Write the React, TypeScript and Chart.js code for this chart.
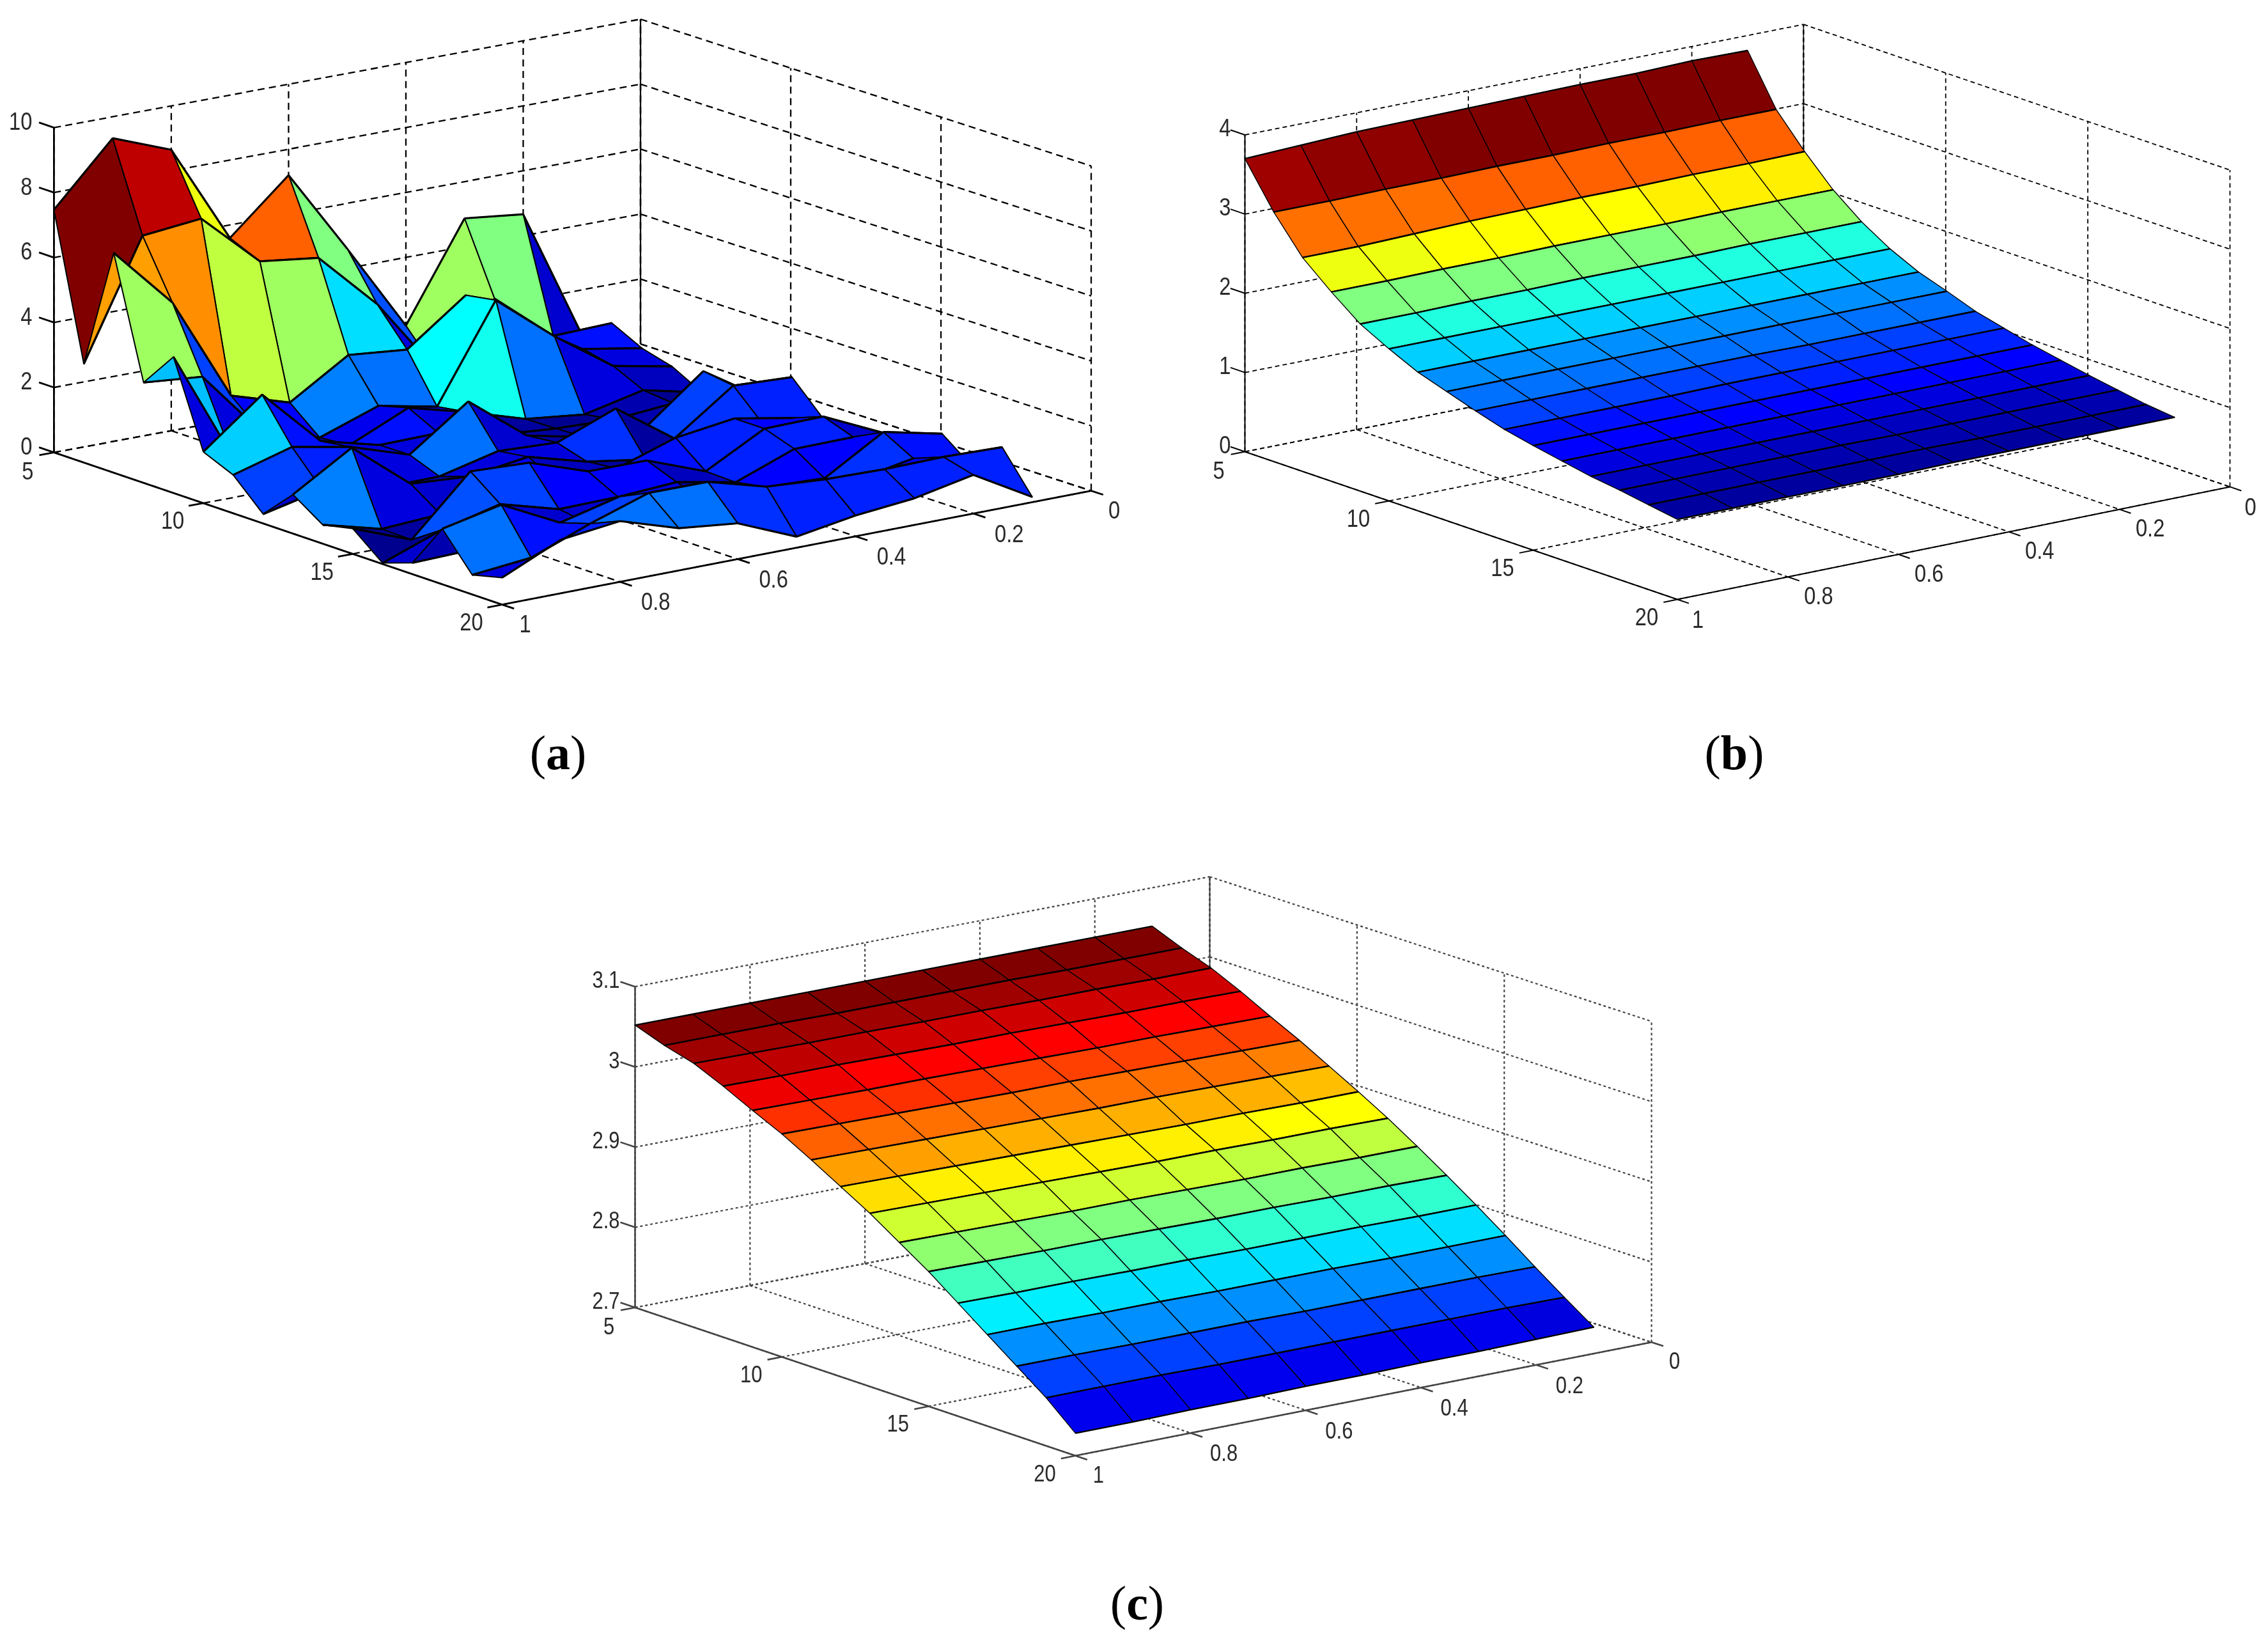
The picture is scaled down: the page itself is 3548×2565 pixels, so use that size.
import React, { useEffect, useRef } from "react";
import { Chart, registerables } from "chart.js";

Chart.register(...registerables);

// ---- values ----
const xNodes = [5, 6, 7, 8, 9, 10, 11, 12, 13, 14, 15, 16, 17, 18, 19, 20];
const yNodes = [1, 0.9, 0.8, 0.7, 0.6, 0.5, 0.4, 0.3, 0.2, 0.1];
const xTicks = [5, 10, 15, 20];
const yTicks = [1, 0.8, 0.6, 0.4, 0.2, 0];
const zTicksA = [0, 2, 4, 6, 8, 10];
const zTicksB = [0, 1, 2, 3, 4];
const zTicksC = [2.7, 2.8, 2.9, 3, 3.1];

// rows: x = 5..20, columns: y = 1..0.1
const zA = [
  [7.47, 9.34, 8.65, 5.6, 7.2, 4.6, 1.9, 4.87, 4.66, 0.62],
  [3.04, 6.65, 6.84, 5.19, 4.96, 3.2, 0.85, 2.7, 1.22, 1.28],
  [6.77, 4.9, 1.7, 1.15, 2.28, 2.11, 3.45, 1.5, 1.12, 0.81],
  [3.09, 2.93, 0.9, 0.38, 1.02, 0.66, 3.6, 2.15, 0.9, 0.55],
  [4.19, 0.8, 0.35, 0.46, 1.27, 0.8, 0.25, 0.05, 0.46, 0.05],
  [1.58, 3.0, 1.23, 0.77, 0.8, 0.4, 0.26, 0.2, 0.36, 0.3],
  [1.18, 1.7, 1.36, 0.78, 2.08, 0.69, 0.3, 0.23, 1.65, 0.5],
  [0.29, 0.7, 0.4, 0.42, 0.86, 0.78, 1.49, 0.22, 1.51, 1.43],
  [1.2, 2.3, 0.85, 0.73, 0.99, 0.5, 0.22, 0.2, 0.62, 0.5],
  [0.58, 0.11, 0.22, 0.3, 0.5, 0.6, 1.2, 1.45, 1.12, 0.58],
  [0.78, 0.09, 1.85, 1.77, 1.16, 1.15, 0.47, 1.44, 1.47, 0.63],
  [0.03, 0.7, 1.15, 0.65, 0.68, 0.79, 0.44, 1.12, 1.14, 0.89],
  [0.35, 0.4, 0.8, 0.5, 0.6, 0.5, 0.6, 0.52, 1.6, 1.2],
  [1.71, 2.1, 1.2, 1.65, 0.9, 0.9, 0.8, 0.75, 1.09, 0.49],
  [0.6, 0.78, 1.48, 2.08, 2.07, 1.57, 1.45, 1.41, 1.44, 1.39],
  [0.83, 1.65, 1.87, 1.3, 1.1, 0.34, 0.64, 0.82, 1.19, 0.16],
];

const zB = [
  [3.7, 3.73, 3.76, 3.77, 3.78, 3.79, 3.8, 3.8, 3.82, 3.81],
  [3.15, 3.15, 3.16, 3.16, 3.17, 3.17, 3.18, 3.18, 3.19, 3.19],
  [2.7, 2.7, 2.72, 2.74, 2.75, 2.76, 2.76, 2.77, 2.77, 2.78],
  [2.39, 2.39, 2.4, 2.4, 2.41, 2.41, 2.41, 2.42, 2.42, 2.42],
  [2.11, 2.11, 2.12, 2.12, 2.13, 2.13, 2.13, 2.14, 2.14, 2.14],
  [1.92, 1.92, 1.92, 1.92, 1.92, 1.92, 1.92, 1.92, 1.92, 1.92],
  [1.75, 1.75, 1.75, 1.75, 1.75, 1.75, 1.75, 1.75, 1.75, 1.75],
  [1.63, 1.63, 1.63, 1.63, 1.63, 1.63, 1.63, 1.63, 1.63, 1.63],
  [1.51, 1.51, 1.51, 1.51, 1.51, 1.51, 1.5, 1.5, 1.5, 1.5],
  [1.4, 1.4, 1.4, 1.4, 1.41, 1.41, 1.41, 1.41, 1.41, 1.41],
  [1.32, 1.32, 1.32, 1.32, 1.32, 1.32, 1.32, 1.32, 1.32, 1.32],
  [1.25, 1.25, 1.25, 1.25, 1.25, 1.25, 1.25, 1.25, 1.25, 1.25],
  [1.18, 1.18, 1.18, 1.18, 1.18, 1.18, 1.18, 1.18, 1.18, 1.18],
  [1.13, 1.13, 1.13, 1.13, 1.13, 1.12, 1.12, 1.12, 1.12, 1.12],
  [1.07, 1.07, 1.07, 1.07, 1.07, 1.07, 1.06, 1.06, 1.06, 1.06],
  [1.01, 1.01, 1.01, 1.01, 1.01, 1.02, 1.02, 1.02, 1.02, 1.02],
];

const zC = [
  [3.052, 3.052, 3.052, 3.052, 3.052, 3.052, 3.052, 3.052, 3.052, 3.052],
  [3.039, 3.039, 3.039, 3.038, 3.038, 3.038, 3.038, 3.037, 3.037, 3.037],
  [3.029, 3.028, 3.027, 3.027, 3.026, 3.026, 3.025, 3.025, 3.024, 3.024],
  [3.013, 3.012, 3.012, 3.011, 3.01, 3.01, 3.009, 3.008, 3.008, 3.007],
  [2.995, 2.994, 2.993, 2.993, 2.992, 2.991, 2.99, 2.99, 2.989, 2.988],
  [2.978, 2.977, 2.976, 2.975, 2.974, 2.974, 2.973, 2.972, 2.971, 2.97],
  [2.958, 2.957, 2.956, 2.955, 2.954, 2.953, 2.953, 2.952, 2.951, 2.95],
  [2.937, 2.936, 2.935, 2.934, 2.933, 2.932, 2.931, 2.931, 2.93, 2.93],
  [2.916, 2.915, 2.914, 2.913, 2.912, 2.911, 2.911, 2.91, 2.91, 2.909],
  [2.892, 2.891, 2.89, 2.889, 2.889, 2.888, 2.887, 2.887, 2.886, 2.886],
  [2.868, 2.867, 2.866, 2.866, 2.865, 2.864, 2.864, 2.863, 2.863, 2.862],
  [2.841, 2.84, 2.84, 2.839, 2.839, 2.838, 2.838, 2.838, 2.837, 2.837],
  [2.814, 2.814, 2.813, 2.813, 2.812, 2.812, 2.812, 2.811, 2.811, 2.811],
  [2.787, 2.787, 2.786, 2.786, 2.786, 2.785, 2.785, 2.785, 2.785, 2.784],
  [2.76, 2.76, 2.76, 2.759, 2.759, 2.759, 2.759, 2.759, 2.759, 2.758],
  [2.728, 2.728, 2.729, 2.729, 2.73, 2.73, 2.731, 2.731, 2.732, 2.733],
];

// ---- view of each panel: floor corners and height of the box, in page pixels ----
type Pt = [number, number];
type Panel = {
  z: number[][]; zTicks: number[]; zMin: number; zMax: number; zH: number;
  A: Pt; B: Pt; C: Pt; D: Pt; box: [number, number, number, number];
  edge: number; rowEdge: number; dash: number[]; gridW: number; axisW: number; ink: string; font: number;
  xOff: Pt; yOff: Pt; yEndOff: Pt; zOff: Pt;
};

const panels: Panel[] = [
  {
    z: zA, zTicks: zTicksA, zMin: 0, zMax: 10, zH: 508,
    A: [84.4, 707.6], B: [785.5, 945.6], C: [1707, 767.6], D: [1002, 538],
    box: [0, 0, 1774, 1100], edge: 2, rowEdge: 3.2, dash: [11, 7], gridW: 2.3, axisW: 2.8, ink: "#000", font: 38,
    xOff: [-48, 30], yOff: [56, 34], yEndOff: [36, 33], zOff: [-34, -7],
  },
  {
    z: zB, zTicks: zTicksB, zMin: 0, zMax: 4, zH: 495.5,
    A: [1947.5, 706.5], B: [2624, 937.5], C: [3488.5, 761.4], D: [2821.4, 533.7],
    box: [1774, 0, 1774, 1100], edge: 1.4, rowEdge: 2.4, dash: [7, 5], gridW: 1.8, axisW: 2, ink: "#000", font: 38,
    xOff: [-48, 30], yOff: [48, 32], yEndOff: [32, 34], zOff: [-22, -8],
  },
  {
    z: zC, zTicks: zTicksC, zMin: 2.7, zMax: 3.1, zH: 501.8,
    A: [993.5, 2045], B: [1682.4, 2276.8], C: [2583.6, 2099.3], D: [1892.5, 1873],
    box: [800, 1320, 1900, 1050], edge: 1.4, rowEdge: 2.4, dash: [4, 4], gridW: 2.2, axisW: 2.6, ink: "#444", font: 36,
    xOff: [-48, 30], yOff: [52, 34], yEndOff: [36, 32], zOff: [-24, -8],
  },
];

function project(p: Panel, x: number, y: number, z: number) {
  const u = (x - 5) / 15;
  const s = 1 - y;
  const mix = (k: 0 | 1) =>
    (1 - u) * (1 - s) * p.A[k] + u * (1 - s) * p.B[k] + u * s * p.C[k] + (1 - u) * s * p.D[k];
  return { x: mix(0), y: mix(1) - ((z - p.zMin) / (p.zMax - p.zMin)) * p.zH };
}

function jet(t: number) {
  const level = Math.max(0, Math.min(63, Math.floor(t * 64)));
  const v = (level + 1) / 64;
  const c = (n: number) => Math.round(255 * Math.max(0, Math.min(1, n)));
  const r = c(Math.min(4 * v - 1.5, -4 * v + 4.5));
  const g = c(Math.min(4 * v - 0.5, -4 * v + 3.5));
  const b = c(Math.min(4 * v + 0.5, -4 * v + 2.5));
  return `rgb(${r},${g},${b})`;
}

function segment(data: { x: number; y: number }[], color: string, width: number, dash: number[]) {
  return { data, showLine: true, fill: false, borderColor: color, borderWidth: width, borderDash: dash, pointRadius: 0, tension: 0, borderCapStyle: "butt" };
}

function buildDatasets(p: Panel) {
  const { zMin, zMax } = p;
  const behind: any[] = [];
  const g = (a: number[], b: number[]) =>
    behind.push(segment([project(p, a[0], a[1], a[2]), project(p, b[0], b[1], b[2])], p.ink, p.gridW, p.dash));
  const s = (a: number[], b: number[], w = p.axisW) =>
    behind.push(segment([project(p, a[0], a[1], a[2]), project(p, b[0], b[1], b[2])], p.ink, w, []));

  for (const x of xTicks) {
    g([x, 1, zMin], [x, 0, zMin]);
    g([x, 0, zMin], [x, 0, zMax]);
  }
  for (const y of yTicks) {
    g([5, y, zMin], [20, y, zMin]);
    g([5, y, zMin], [5, y, zMax]);
  }
  for (const z of p.zTicks) {
    g([5, 1, z], [5, 0, z]);
    g([5, 0, z], [20, 0, z]);
  }
  s([5, 1, zMin], [20, 1, zMin]);
  s([20, 1, zMin], [20, 0, zMin]);
  s([5, 1, zMin], [5, 1, zMax]);
  s([5, 0, zMin], [5, 0, zMax], p.axisW * 0.8);
  for (const x of xTicks) s([x, 1, zMin], [x, 1.025, zMin]);
  for (const y of yTicks) s([20, y, zMin], [20.4, y, zMin]);
  for (const z of p.zTicks) s([5, 1, z], [4.5, 1, z]);

  const all = p.z.flat();
  const lo = Math.min(...all);
  const hi = Math.max(...all);
  const node = (a: number, b: number) => project(p, xNodes[a], yNodes[b], p.z[a][b]);
  const faces: any[] = [];
  // far rows first, so that nearer faces paint over them
  for (let i = 0; i < xNodes.length - 1; i++) {
    for (let j = yNodes.length - 2; j >= 0; j--) {
      const corners = [[i, j], [i, j + 1], [i + 1, j + 1], [i + 1, j], [i, j]];
      faces.push({
        data: corners.map(([a, b]) => node(a, b)),
        showLine: true,
        fill: "shape",
        backgroundColor: jet((p.z[i][j + 1] - lo) / (hi - lo)),
        borderColor: "#000",
        borderWidth: p.edge,
        borderJoinStyle: "round",
        pointRadius: 0,
        tension: 0,
      });
      // the edges along y read heavier than those along x in the reference
      faces.push(segment([node(i, j), node(i, j + 1)], "#000", p.rowEdge, []));
      faces.push(segment([node(i + 1, j), node(i + 1, j + 1)], "#000", p.rowEdge, []));
    }
  }
  // Chart.js paints the last dataset first
  return [...faces.reverse(), ...behind.reverse()];
}

function tickLabelPlugin(p: Panel) {
  return {
    id: "tickLabels",
    afterDatasetsDraw(chart: any) {
      const { ctx, scales } = chart;
      const put = (text: string, at: { x: number; y: number }, off: Pt) => {
        ctx.save();
        ctx.translate(scales.x.getPixelForValue(at.x + off[0]), scales.y.getPixelForValue(at.y + off[1]));
        ctx.scale(0.86, 1);
        ctx.fillText(text, 0, 0);
        ctx.restore();
      };
      ctx.save();
      ctx.fillStyle = "#2a2a2a";
      ctx.font = `${p.font}px "Liberation Sans"`;
      ctx.textBaseline = "middle";
      ctx.textAlign = "center";
      xTicks.forEach((x) => put(String(x), project(p, x, 1, p.zMin), x === 5 ? [-41, 32] : p.xOff));
      yTicks.forEach((y) =>
        put(String(y), project(p, 20, y, p.zMin), y === 1 || y === 0 ? p.yEndOff : p.yOff)
      );
      ctx.textAlign = "right";
      p.zTicks.forEach((z) => put(String(z), project(p, 5, 1, z), p.zOff));
      ctx.restore();
    },
  };
}

function PanelChart({ panel }: { panel: Panel }) {
  const ref = useRef<HTMLCanvasElement>(null);
  useEffect(() => {
    const [left, top, width, height] = panel.box;
    const chart = new Chart(ref.current as HTMLCanvasElement, {
      type: "scatter",
      data: { datasets: buildDatasets(panel) },
      options: {
        animation: false,
        responsive: false,
        layout: { padding: 0 },
        plugins: { legend: { display: false }, tooltip: { enabled: false }, title: { display: false } },
        scales: {
          x: { type: "linear", display: false, min: left, max: left + width },
          y: { type: "linear", display: false, min: top, max: top + height, reverse: true },
        },
      },
      plugins: [tickLabelPlugin(panel)],
    } as any);
    return () => chart.destroy();
  }, [panel]);
  const [left, top, width, height] = panel.box;
  return (
    <canvas
      ref={ref}
      width={width}
      height={height}
      style={{ position: "absolute", left, top, width, height, display: "block" }}
    />
  );
}

const captions = [
  { letter: "a", cx: 873, cy: 1177 },
  { letter: "b", cx: 2713, cy: 1177 },
  { letter: "c", cx: 1779, cy: 2507 },
];

export default function App() {
  return (
    <div style={{ position: "absolute", left: 0, top: 0, width: 3548, height: 2565, background: "#fff", overflow: "hidden" }}>
      {panels.map((p, i) => (
        <PanelChart key={i} panel={p} />
      ))}
      {captions.map((c) => (
        <div
          key={c.letter}
          style={{
            position: "absolute", left: c.cx, top: c.cy, transform: "translate(-50%,-50%)",
            font: '76px "Liberation Serif"', color: "#000", whiteSpace: "nowrap",
          }}
        >
          (<b>{c.letter}</b>)
        </div>
      ))}
    </div>
  );
}
